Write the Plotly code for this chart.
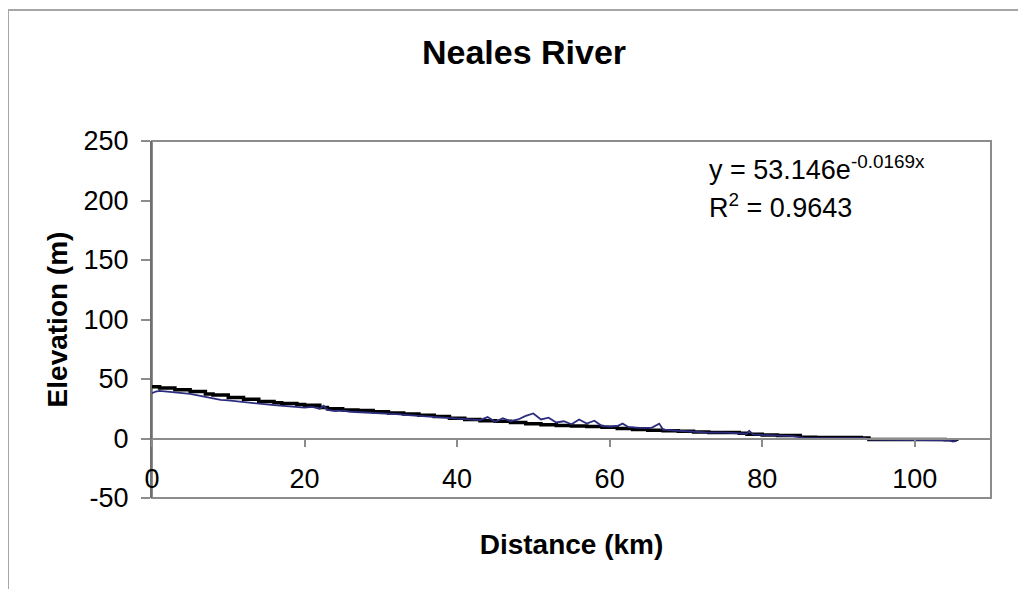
import plotly.graph_objects as go

# Black profile series (distance km, elevation m)
black_x = [0, 1, 3, 5, 7, 8, 10, 12, 14, 16, 17, 19, 20, 22, 23, 25, 27, 29, 31, 33,
           35, 37, 39, 41, 43, 45, 47, 49, 51, 53, 55, 57, 59, 61, 63, 65, 67, 69, 71, 73,
           75, 77, 78, 80, 82, 84, 85, 87, 89, 91, 93, 94, 96, 98, 100, 102, 104, 105.5]
black_y = [43.5, 42.5, 41, 39.5, 37.5, 36.5, 34.5, 33, 31, 30, 29.5, 28.5, 28, 26, 25, 24, 23.5, 22.5, 21.5, 20.5,
           19.5, 18.5, 17, 16, 15, 14.5, 13.5, 12.5, 11.5, 11, 10.5, 10, 9.5, 8.5, 7.5, 7, 6.5, 6, 5.5, 5,
           5, 4.5, 3.5, 3, 2.5, 2.5, 1, 0.8, 0.8, 0.8, 0.5, -0.8, -0.8, -0.8, -0.8, -0.8, -1, -2]

# Blue (navy) profile series
blue_x = [0, 0.5, 1, 3, 5, 7, 9, 10, 12, 14, 16, 18, 20, 21, 22, 22.5, 23, 24, 25, 26,
          28, 30, 32, 34, 36, 38, 40, 42, 43, 44, 45, 46, 47, 48, 49, 50, 51, 52, 53, 54,
          55, 56, 57, 58, 59, 60, 61, 61.7, 62.5, 64, 65.5, 66.5, 67, 69, 71, 73, 75, 77, 78, 78.3,
          78.8, 80, 82, 84, 85.5, 88, 91, 93.5, 94, 97, 100, 103, 104.5, 105, 105.5]
blue_y = [38, 39.5, 40, 39, 37.5, 35, 32.5, 32, 30.5, 29, 28, 27, 26, 26.5, 25, 27.5, 24, 23, 23.5, 22.5,
          22, 21.5, 20.5, 19.5, 18.5, 17.5, 16.5, 16, 15.5, 18, 14, 17, 14.5, 16, 19, 21, 16, 17.5, 13.5, 14.5,
          12, 16, 12.5, 15, 10.5, 10, 10.5, 12.5, 9.5, 9, 9, 12.5, 7.5, 6.5, 5.5, 5, 5, 4.5, 4, 6.5,
          3.5, 3, 2.5, 2, 0.5, 0.5, 0.3, 0.2, -1, -1, -1, -1, -1.5, -2.5, -2]

x_ticks = [0, 20, 40, 60, 80, 100]
y_ticks = [-50, 0, 50, 100, 150, 200, 250]

FONT = "Liberation Sans, Arial, sans-serif"
GRAY = "#8c8c8c"


def fx(px):
    return (px - 152) / 839


def fy(py):
    return (498 - py) / 357


fig = go.Figure()
fig.add_trace(go.Scatter(x=black_x, y=black_y, mode="lines", line_shape="hv",
                         line=dict(color="#000000", width=3.5), showlegend=False))
fig.add_trace(go.Scatter(x=blue_x, y=blue_y, mode="lines",
                         line=dict(color="#2d2d80", width=1.8), showlegend=False))

fig.update_layout(
    width=1026, height=589,
    margin=dict(l=144, r=43, t=133, b=99),
    paper_bgcolor="white", plot_bgcolor="white",
    font=dict(family=FONT, color="#000000"),
    showlegend=False,
    title=dict(text="<b>Neales River</b>", x=(524 - 8) / 1026, xref="container", xanchor="center",
               y=1 - (52 - 8) / 589, yref="container", yanchor="middle",
               font=dict(size=34, family=FONT, color="#000000")),
    xaxis=dict(range=[0, 110], tickvals=x_ticks, ticktext=[str(v) for v in x_ticks],
               anchor="free", position=1 / 6,
               showline=True, linecolor=GRAY, linewidth=1.5,
               ticks="outside", ticklen=8, tickcolor=GRAY, tickwidth=1.5,
               ticklabelstandoff=8,
               showgrid=False, zeroline=False,
               tickfont=dict(size=27, family=FONT),
               title=dict(text="<b>Distance (km)</b>", font=dict(size=28, family=FONT), standoff=41)),
    yaxis=dict(range=[-50, 250], tickvals=y_ticks, ticktext=[str(v) for v in y_ticks],
               showline=True, linecolor="#707070", linewidth=2,
               ticks="outside", ticklen=9, tickcolor=GRAY, tickwidth=1.5,
               ticklabelstandoff=7,
               showgrid=False, zeroline=False,
               tickfont=dict(size=27, family=FONT),
               title=dict(text="<b>Elevation (m)</b>", font=dict(size=28, family=FONT), standoff=8)),
)

# plot-area frame and outer chart border
fig.add_shape(type="rect", xref="paper", yref="paper", x0=0, y0=0, x1=1, y1=1,
              line=dict(color=GRAY, width=2), layer="below")
fig.add_shape(type="rect", xref="paper", yref="paper",
              x0=fx(8), y0=fy(10), x1=fx(1045), y1=fy(600),
              line=dict(color="#a6a6a6", width=2), layer="below")

fig.add_annotation(xref="paper", yref="paper", x=fx(707), y=fy(168),
                   xanchor="left", yanchor="middle", showarrow=False,
                   text="y = 53.146e<sup>-0.0169x</sup>", font=dict(size=27, family=FONT))
fig.add_annotation(xref="paper", yref="paper", x=fx(707), y=fy(206),
                   xanchor="left", yanchor="middle", showarrow=False,
                   text="R<sup>2</sup> = 0.9643", font=dict(size=27, family=FONT))

fig.write_html("out.html")
